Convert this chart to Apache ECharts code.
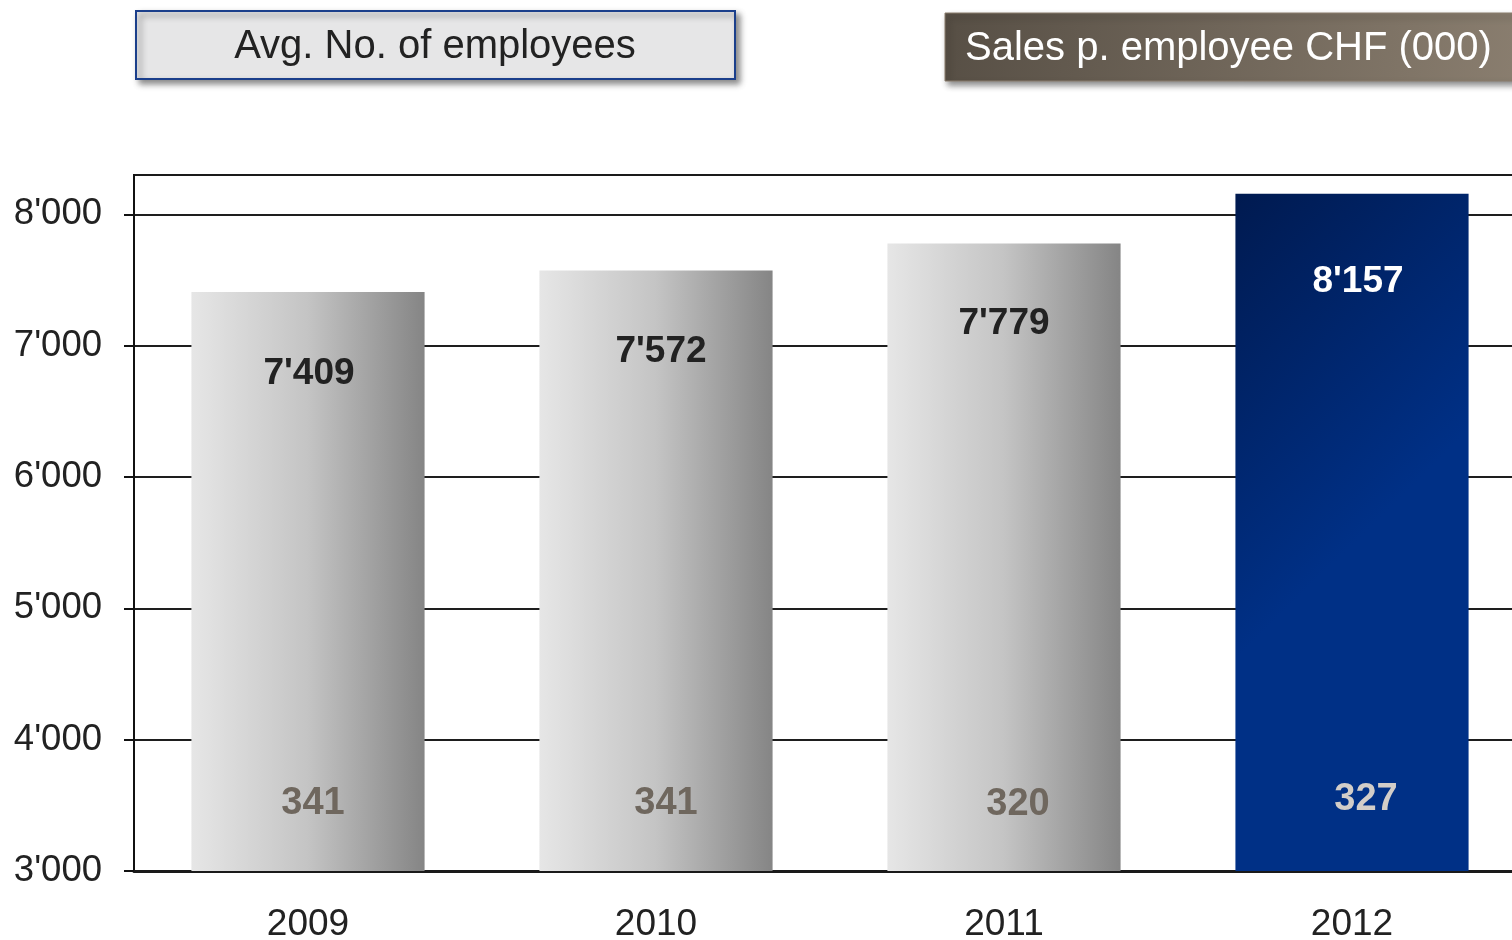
<!DOCTYPE html>
<html>
<head>
<meta charset="utf-8">
<title>Employees and sales per employee</title>
<script src="https://cdn.jsdelivr.net/npm/echarts@6/dist/echarts.min.js"></script>
<style>
  html, body { margin: 0; padding: 0; background: #ffffff; overflow: hidden; width: 1512px; height: 940px; }
  /* the plot runs on past the right edge of the page, so the canvas is a little wider */
  #chart { width: 1526px; height: 940px; }
</style>
</head>
<body>
<div id="chart"></div>
<script>
// Years shown on the category axis
const years = ['2009', '2010', '2011', '2012'];
// Average number of employees (bar heights)
const avgEmployees = [7409, 7572, 7779, 8157];
// Sales per employee, CHF thousands (shown at the foot of each bar)
const salesPerEmployee = [341, 341, 320, 327];
// Value-axis ticks
const yTicks = [3000, 4000, 5000, 6000, 7000, 8000];

const FONT = '"Liberation Sans", Arial, Helvetica, sans-serif';

function fmtThousands(v) {
  return String(v).replace(/\B(?=(\d{3})+(?!\d))/g, "'");
}

const grayFill = new echarts.graphic.LinearGradient(0, 0, 1, 0, [
  { offset: 0, color: '#e6e6e6' },
  { offset: 0.5, color: '#c4c4c4' },
  { offset: 1, color: '#858585' }
]);
const blueFill = new echarts.graphic.LinearGradient(0, 0, 1, 0.35, [
  { offset: 0, color: '#001a50' },
  { offset: 1, color: '#003086' }
]);

const lastIdx = years.length - 1;

const chart = echarts.init(document.getElementById('chart'), null, { renderer: 'canvas' });

chart.setOption({
  animation: false,
  backgroundColor: '#ffffff',
  grid: {
    left: 134, top: 175, right: 0, bottom: 69,
    outerBoundsMode: 'none',
    containLabel: false,
    show: true, borderColor: '#1a1a1a', borderWidth: 2, backgroundColor: 'transparent'
  },
  xAxis: {
    type: 'category',
    data: years,
    axisLine: { lineStyle: { color: '#1a1a1a', width: 3 } },
    axisTick: { show: false },
    axisLabel: { color: '#222', fontSize: 37, fontFamily: FONT, margin: 35 }
  },
  yAxis: {
    type: 'value',
    min: 3000, max: 8300, interval: 1000,
    axisLine: { show: true, lineStyle: { color: '#111', width: 2 } },
    axisTick: { show: true, length: 10, customValues: yTicks, lineStyle: { color: '#111', width: 2 } },
    axisLabel: {
      customValues: yTicks,
      color: '#222', fontSize: 36.5, fontFamily: FONT, margin: 32,
      formatter: v => fmtThousands(v)
    },
    splitLine: { lineStyle: { color: '#1e1e1e', width: 2 } }
  },
  series: [
    {
      name: 'Avg. No. of employees',
      type: 'bar',
      barWidth: '67%',
      data: avgEmployees.map((v, i) => ({
        value: v,
        itemStyle: { color: i === lastIdx ? blueFill : grayFill },
        label: {
          color: i === lastIdx ? '#ffffff' : '#222222',
          distance: [63, 63, 62, 70][i],
          offset: [[1, 5, 0, 6][i], 0]
        }
      })),
      label: {
        show: true,
        position: 'insideTop',
        fontSize: 37,
        fontWeight: 'bold',
        fontFamily: FONT,
        formatter: p => fmtThousands(p.value)
      },
      z: 2
    },
    {
      name: 'Sales p. employee CHF (000)',
      type: 'bar',
      barWidth: '67%',
      barGap: '-100%',
      silent: true,
      data: avgEmployees.map((v, i) => ({
        value: v,
        label: {
          color: i === lastIdx ? '#d2cdc8' : '#6f675e',
          distance: [48, 48, 47, 52][i],
          offset: [[5, 10, 14, 14][i], 0]
        }
      })),
      itemStyle: { color: 'rgba(0,0,0,0)' },
      label: {
        show: true,
        position: 'insideBottom',
        fontSize: 38,
        fontWeight: 'bold',
        fontFamily: FONT,
        formatter: p => String(salesPerEmployee[p.dataIndex])
      },
      z: 3
    }
  ],
  graphic: [
    {
      type: 'rect',
      shape: { x: 136, y: 11, width: 599, height: 68 },
      style: {
        fill: '#e6e6e7', stroke: '#1b3f8b', lineWidth: 2,
        shadowColor: 'rgba(0,0,0,0.45)', shadowBlur: 6, shadowOffsetX: 4, shadowOffsetY: 4
      },
      z: 10
    },
    {
      type: 'text',
      x: 435, y: 47,
      style: {
        text: 'Avg. No. of employees', fill: '#222', font: '40px ' + FONT,
        align: 'center', verticalAlign: 'middle'
      },
      z: 11
    },
    {
      type: 'rect',
      shape: { x: 945, y: 13, width: 590, height: 68 },
      style: {
        fill: new echarts.graphic.LinearGradient(0, 0, 1, 1, [
          { offset: 0, color: '#574f45' },
          { offset: 1, color: '#8b7f70' }
        ]),
        stroke: '#8a7c6c', lineWidth: 1,
        shadowColor: 'rgba(0,0,0,0.45)', shadowBlur: 6, shadowOffsetX: 3, shadowOffsetY: 4
      },
      z: 10
    },
    {
      type: 'text',
      x: 965, y: 49,
      style: {
        text: 'Sales p. employee CHF (000)', fill: '#ffffff', font: '40px ' + FONT,
        align: 'left', verticalAlign: 'middle'
      },
      z: 11
    }
  ]
});
</script>
</body>
</html>
